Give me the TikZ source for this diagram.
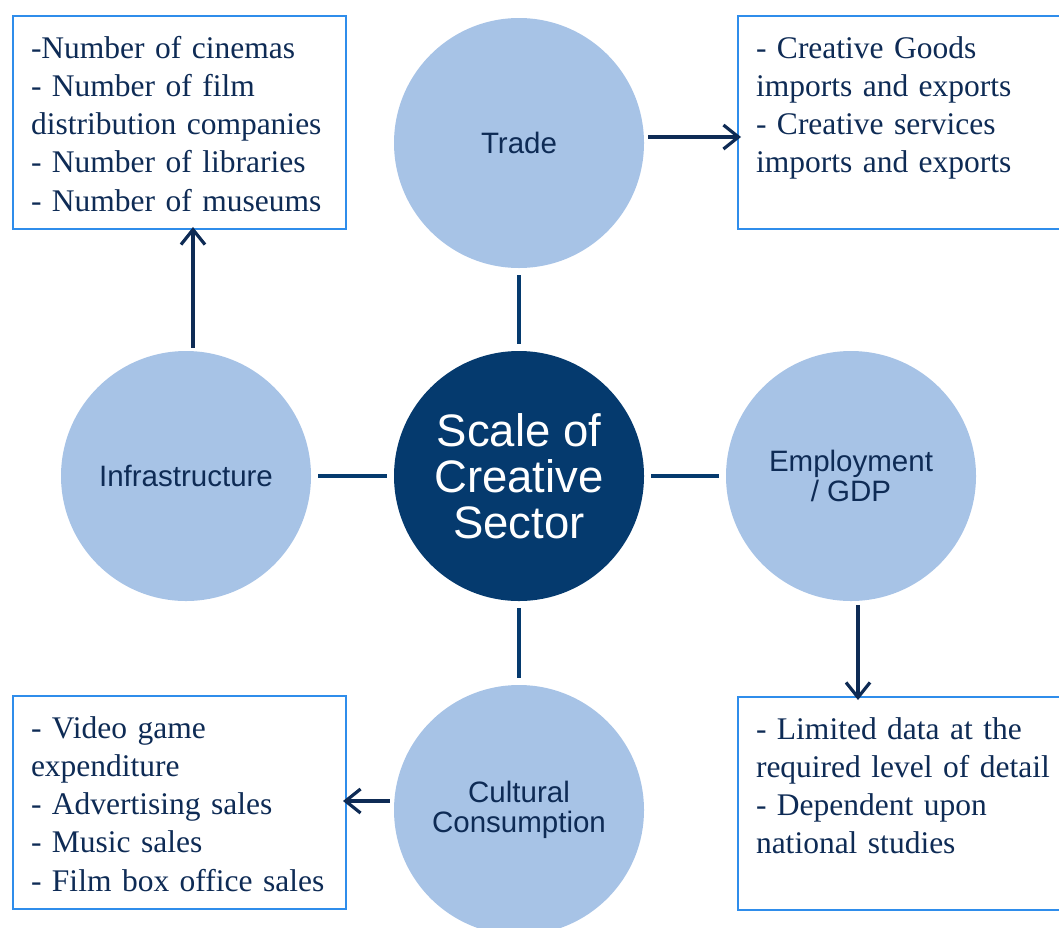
\documentclass[tikz,border=0pt]{standalone}
\usepackage{fontspec}
\setmainfont{Liberation Serif}
\setsansfont{Liberation Sans}
\usepackage{xcolor}
\usepackage{tikz}
\usetikzlibrary{arrows.meta}
\definecolor{csnavy}{HTML}{053A6E}
\definecolor{cslight}{HTML}{A7C3E6}
\definecolor{csedge}{HTML}{2F8DEB}
\definecolor{csink}{HTML}{0E2B55}
\tikzset{
  hub/.style={circle, fill=csnavy, text=white, minimum size=250pt, inner sep=0pt, align=center, font=\sffamily\fontsize{45.5}{46}\selectfont},
  topic/.style={circle, fill=cslight, text=csink, minimum size=250pt, inner sep=0pt, align=center, font=\sffamily\fontsize{29.5}{30}\selectfont},
  listbox/.style={draw=csedge, line width=2pt, fill=white, anchor=north west, text=csink, text width=297pt, inner xsep=18pt, inner ysep=10pt, align=left, text height=32pt, text depth=161pt, font=\rmfamily\fontsize{31.5}{38.3}\selectfont},
  link/.style={draw=csnavy, line width=4.5pt, shorten <=7pt, shorten >=7pt},
  line/.style={-{Straight Barb[length=15pt,width=24pt]}, line width=3.2pt, draw=csink}
}
\begin{document}
\begin{tikzpicture}[x=1pt, y=-1pt]
  \useasboundingbox (0,0) rectangle (1059,927);

  % centre and the four areas around it
  \node[hub] (hub) at (519,476) {Scale of\\Creative\\Sector};
  \node[topic] (trade) at (519,143) {Trade};
  \node[topic] (infra) at (186,476) {Infrastructure};
  \node[topic] (emp) at (851,476) {Employment\\/ GDP};
  \node[topic] (cult) at (519,810) {Cultural\\Consumption};

  \draw[link] (hub) -- (trade);
  \draw[link] (hub) -- (infra);
  \draw[link] (hub) -- (emp);
  \draw[link] (hub) -- (cult);

  % indicator lists
  \node[listbox] (infralist) at (12,15) {-Number of cinemas\\- Number of film\\distribution companies\\- Number of libraries\\- Number of museums};
  \node[listbox] (tradelist) at (737,15) {- Creative Goods\\imports and exports\\- Creative services\\imports and exports};
  \node[listbox] (cultlist) at (12,695) {- Video game\\expenditure\\- Advertising sales\\- Music sales\\- Film box office sales};
  \node[listbox] (emplist) at (737,696) {- Limited data at the\\required level of detail\\- Dependent upon\\national studies};

  \draw[line] ([shift={(7,-3)}]infra.north) -- ([shift={(7,-3)}]infra.north |- infralist.south);
  \draw[line] ([shift={(4,-6)}]trade.east) -- ([shift={(4,-6)}]trade.east -| tradelist.west);
  \draw[line] ([shift={(7,4)}]emp.south) -- ([shift={(7,4)}]emp.south |- emplist.north);
  \draw[line] ([shift={(-4,-9)}]cult.west) -- ([shift={(-4,-9)}]cult.west -| cultlist.east);
\end{tikzpicture}
\end{document}
